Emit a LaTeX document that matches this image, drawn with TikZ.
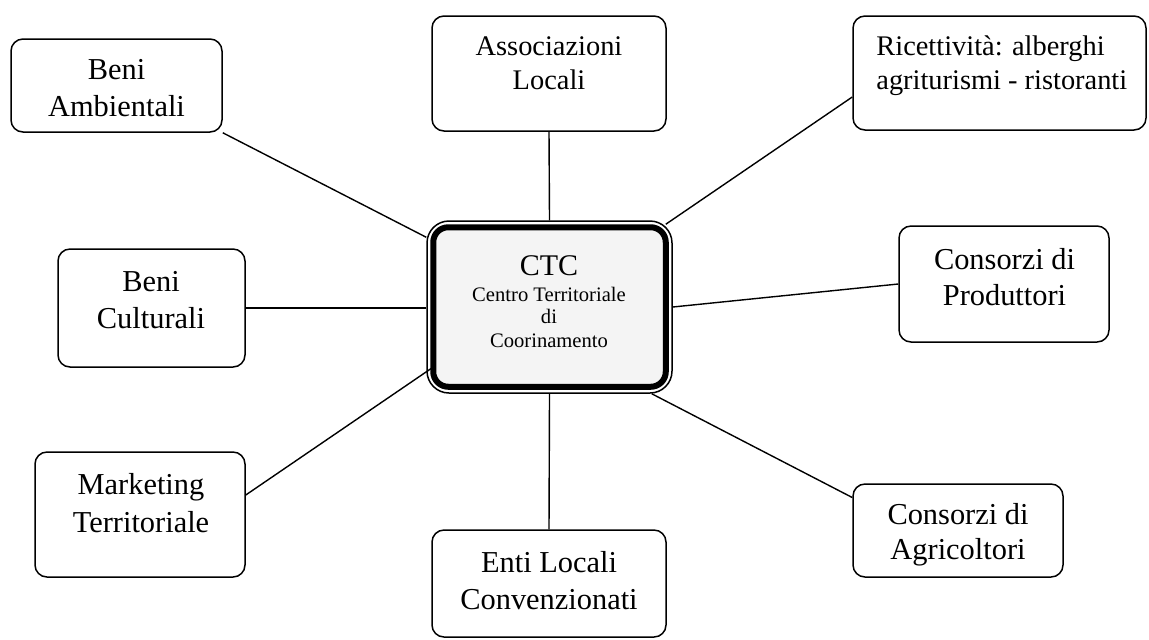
\documentclass[tikz,border=0pt]{standalone}
\usepackage{fontspec}
\setmainfont{Liberation Serif}
\tikzset{
  box/.style={draw, line width=0.75pt, rounded corners=6pt, inner sep=0pt},
  big/.style={font=\fontsize{15.2}{18}\selectfont, inner sep=0pt, anchor=base},
  mid/.style={font=\fontsize{14.2}{17}\selectfont, inner sep=0pt, anchor=base},
  small/.style={font=\fontsize{10.3}{12}\selectfont, inner sep=0pt, anchor=base},
  conn/.style={draw, line width=0.7pt},
}
\begin{document}
\begin{tikzpicture}[x=0.5pt,y=-0.5pt]
\useasboundingbox (0,0) rectangle (1149,639);
% boxes
\node[box, minimum width=105.5pt, minimum height=46.5pt] (ba) at (116.5,85.5) {};
\node[box, minimum width=117pt, minimum height=57.5pt] (al) at (549,73.5) {};
\node[box, minimum width=146.5pt, minimum height=57pt] (ric) at (999.5,73) {};
\node[box, minimum width=105pt, minimum height=58pt] (cp) at (1004,284) {};
\node[box, minimum width=93.5pt, minimum height=59pt] (bc) at (151.5,308) {};
\node[box, minimum width=105pt, minimum height=62.5pt] (mk) at (140,514.5) {};
\node[box, minimum width=117pt, minimum height=53.5pt] (el) at (549,583.5) {};
\node[box, minimum width=105pt, minimum height=46.5pt] (ca) at (958,530.5) {};
% centre
\node[draw, line width=0.75pt, rounded corners=11pt, minimum width=122.5pt, minimum height=86pt, inner sep=0pt] (ctc) at (549.5,307) {};
\draw[line width=3pt, rounded corners=7.5pt, fill=gray!9]
  ([shift={(3.5pt,-3.5pt)}]ctc.north west) rectangle ([shift={(-3.5pt,3.5pt)}]ctc.south east);
% texts
\node[big] (ba1) at (116.5,79.5) {Beni};
\node[big] (ba2) at (116.5,116) {Ambientali};
\node[mid] (al1) at (549,55) {Associazioni};
\node[mid] (al2) at (549,89) {Locali};
\node[mid, anchor=base west] (ric1) at (876,55) {Ricettività: alberghi};
\node[mid, anchor=base west] (ric2) at (876,89) {agriturismi - ristoranti};
\node[big] (cp1) at (1004.5,269) {Consorzi di};
\node[big] (cp2) at (1004.5,305) {Produttori};
\node[big] (bc1) at (151,291) {Beni};
\node[big] (bc2) at (151,328) {Culturali};
\node[big] (mk1) at (141,494) {Marketing};
\node[big] (mk2) at (141,532) {Territoriale};
\node[big] (el1) at (549,572.5) {Enti Locali};
\node[big] (el2) at (549,609) {Convenzionati};
\node[big] (ca1) at (958,524) {Consorzi di};
\node[big] (ca2) at (958,559) {Agricoltori};
\node[inner sep=0pt, anchor=base, font=\fontsize{15}{18}\selectfont] (ctc1) at (549,275) {CTC};
\node[small] (ctc2) at (549,301) {Centro Territoriale};
\node[small] (ctc3) at (549,323) {di};
\node[small] (ctc4) at (549,347) {Coorinamento};
% connectors
\draw[conn] (ba.south east) -- ([yshift=-8.5pt]ctc.north west);
\draw[conn] (al.south) -- (ctc.north);
\draw[conn] ([yshift=-12pt]ric.west) -- ([shift={(-3.5pt,-2pt)}]ctc.north east);
\draw[conn] (cp.west) -- (ctc.east);
\draw[conn] (bc.east) -- (bc.east -| ctc.west);
\draw[conn] ([yshift=9.75pt]mk.east) -- ([shift={(3pt,13pt)}]ctc.south west);
\draw[conn] (el.north) -- (ctc.south);
\draw[conn] ([yshift=16.5pt]ca.west) -- ([xshift=-10.5pt]ctc.south east);
\end{tikzpicture}
\end{document}
